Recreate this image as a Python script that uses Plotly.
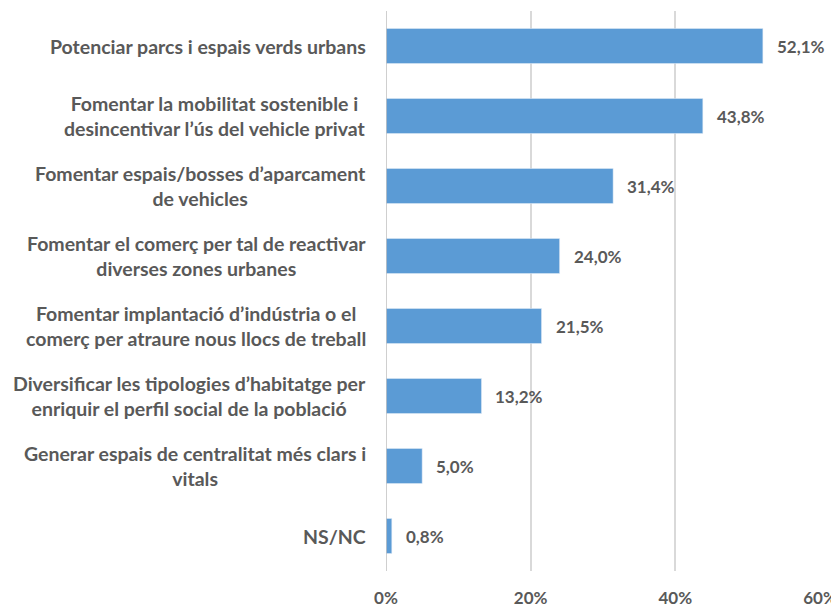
import plotly.graph_objects as go

categories = [
    "Potenciar parcs i espais verds urbans",
    "Fomentar la mobilitat sostenible i<br>desincentivar l’ús del vehicle privat",
    "Fomentar espais/bosses d’aparcament<br>de vehicles",
    "Fomentar el comerç per tal de reactivar<br>diverses zones urbanes",
    "Fomentar implantació d’indústria o el<br>comerç per atraure nous llocs de treball",
    "Diversificar les tipologies d’habitatge per<br>enriquir el perfil social de la població",
    "Generar espais de centralitat més clars i<br>vitals",
    "NS/NC",
]
values = [52.1, 43.8, 31.4, 24.0, 21.5, 13.2, 5.0, 0.8]
value_labels = ["52,1%", "43,8%", "31,4%", "24,0%", "21,5%", "13,2%", "5,0%", "0,8%"]
tick_vals = [0, 20, 40, 60]
tick_text = ["0%", "20%", "40%", "60%"]

FONT = "Lato"
GRAY = "#595959"

fig = go.Figure()
fig.add_trace(go.Bar(
    y=list(range(len(categories))),
    x=values,
    orientation="h",
    marker=dict(color="#5B9BD5"),
    width=0.5,
    hoverinfo="skip",
))

for i, (v, t) in enumerate(zip(values, value_labels)):
    fig.add_annotation(x=v, y=i, xref="x", yref="y", text=t, showarrow=False,
                       xanchor="left", yanchor="middle", xshift=12,
                       font=dict(family=FONT, size=17, color=GRAY, weight="bold"))
    fig.add_annotation(x=0, y=i, xref="paper", yref="y", text=categories[i], showarrow=False,
                       xanchor="right", yanchor="middle", xshift=-18, align="center",
                       font=dict(family=FONT, size=19.5, color=GRAY, weight="bold"))

fig.update_layout(
    width=831, height=599,
    margin=dict(l=378, r=19, t=3, b=36, autoexpand=False),
    paper_bgcolor="white", plot_bgcolor="white",
    showlegend=False,
    xaxis=dict(range=[0, 60], tickvals=tick_vals, ticktext=tick_text,
               showgrid=True, gridcolor="#d9d9d9", gridwidth=1.5, zeroline=False,
               tickfont=dict(family=FONT, size=17, color=GRAY, weight="bold"),
               ticks="", fixedrange=True, automargin=False, ticklabelstandoff=15),
    yaxis=dict(range=[len(categories) - 0.5, -0.5], showticklabels=False,
               showgrid=False, zeroline=False, showline=False, ticks="", automargin=False),
    shapes=[dict(type="line", xref="x", yref="paper", x0=0, x1=0, y0=0, y1=1,
                 line=dict(color="#bfbfbf", width=1.5))],
)

fig.write_html("out.html")
